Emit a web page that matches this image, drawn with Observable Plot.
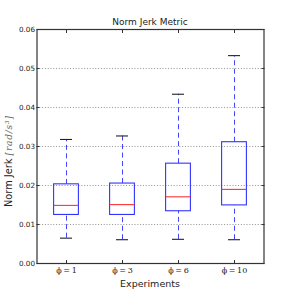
<!DOCTYPE html>
<html><head><meta charset="utf-8">
<script src="https://cdn.jsdelivr.net/npm/d3@7"></script>
<script src="https://cdn.jsdelivr.net/npm/@observablehq/plot@0.6"></script>
<style>
html,body{margin:0;padding:0;background:#fff;}
svg{font-family:"DejaVu Sans",sans-serif;}
</style>
</head><body>
<div id="chart"></div>
<script>
const experiments = ["ϕ=1", "ϕ=3", "ϕ=6", "ϕ=10"];
const whiskerLow = [0.0065, 0.0061, 0.0062, 0.0061];
const q1 = [0.01245, 0.01245, 0.0134, 0.0149];
const median = [0.0149, 0.0151, 0.0171, 0.0190];
const q3 = [0.0203, 0.0205, 0.0256, 0.0311];
const whiskerHigh = [0.0318, 0.0327, 0.0434, 0.0533];
const yTicks = [0, 0.01, 0.02, 0.03, 0.04, 0.05, 0.06];
const gridTicks = [0.01, 0.02, 0.03, 0.04, 0.05];

const data = experiments.map((e, i) => ({
  exp: e, lo: whiskerLow[i], q1: q1[i], med: median[i], q3: q3[i], hi: whiskerHigh[i]
}));

const W = 293, H = 293;
const mL = 36.5, mR = 29.5, mT = 29, mB = 30;
const band = (W - mL - mR) / experiments.length;
const boxInset = band * (1 - 0.45) / 2;
const capInset = band * (1 - 0.225) / 2;

const plot = Plot.plot({
  width: W, height: H,
  marginLeft: mL, marginRight: mR, marginTop: mT, marginBottom: mB,
  style: {fontFamily: "DejaVu Sans, sans-serif", fontSize: "7px", color: "#222", background: "#fff"},
  x: {type: "band", domain: experiments, padding: 0, label: null},
  y: {domain: [0, 0.06], label: null},
  marks: [
    Plot.ruleY(gridTicks, {stroke: "#777", strokeDasharray: "1,1.8", strokeWidth: 0.8}),
    Plot.ruleX(data, {x: "exp", y1: "q3", y2: "hi", stroke: "#4444ff", strokeDasharray: "5,3.5", strokeWidth: 1}),
    Plot.ruleX(data, {x: "exp", y1: "lo", y2: "q1", stroke: "#4444ff", strokeDasharray: "5,3.5", strokeWidth: 1}),
    Plot.barY(data, {x: "exp", y1: "q1", y2: "q3", fill: "none", stroke: "#3333ff", strokeWidth: 1.1, insetLeft: boxInset, insetRight: boxInset}),
    Plot.tickY(data, {x: "exp", y: "med", stroke: "#ff3333", strokeWidth: 1.1, insetLeft: boxInset, insetRight: boxInset}),
    Plot.tickY(data, {x: "exp", y: "hi", stroke: "#222", strokeWidth: 1.1, insetLeft: capInset, insetRight: capInset}),
    Plot.tickY(data, {x: "exp", y: "lo", stroke: "#222", strokeWidth: 1.1, insetLeft: capInset, insetRight: capInset}),
    Plot.axisY({ticks: yTicks, tickFormat: d3.format(".2f"), tickSize: -3, tickPadding: 5, label: null, stroke: "#333", fontSize: 7.2}),
    Plot.axisY({anchor: "right", ticks: yTicks, tickSize: -3, tickFormat: () => "", label: null, stroke: "#333"}),
    Plot.axisX({tickSize: -3, tickPadding: 7, label: null, stroke: "#333", fontSize: 8, fontFamily: "DejaVu Serif, serif",
      tickFormat: d => d.replace("=", "\u2009=\u2009")}),
    Plot.axisX({anchor: "top", tickSize: -3, tickFormat: () => "", label: null, stroke: "#333"}),
    Plot.frame({stroke: "#333", strokeWidth: 1.2})
  ]
});

const svg = d3.select(plot);
svg.append("text").attr("x", mL + (W - mL - mR) / 2).attr("y", 25)
  .attr("text-anchor", "middle").attr("font-size", 9).attr("fill", "#222")
  .attr("font-family", "DejaVu Sans, sans-serif").text("Norm Jerk Metric");
svg.append("text").attr("x", mL + (W - mL - mR) / 2).attr("y", 287)
  .attr("text-anchor", "middle").attr("font-size", 9.5).attr("fill", "#222")
  .attr("font-family", "DejaVu Sans, sans-serif").text("Experiments");
const yl = svg.append("text").attr("transform", `translate(12,207) rotate(-90)`)
  .attr("text-anchor", "start").attr("font-size", 9.8).attr("fill", "#222")
  .attr("font-family", "DejaVu Sans, sans-serif");
yl.append("tspan").text("Norm Jerk ");
yl.append("tspan").attr("font-style", "italic").attr("font-family", "DejaVu Serif, serif")
  .attr("font-size", 9).attr("letter-spacing", 0.8).attr("fill", "#666").text("[rad/s³]");

document.getElementById("chart").appendChild(plot);
</script>
</body></html>
